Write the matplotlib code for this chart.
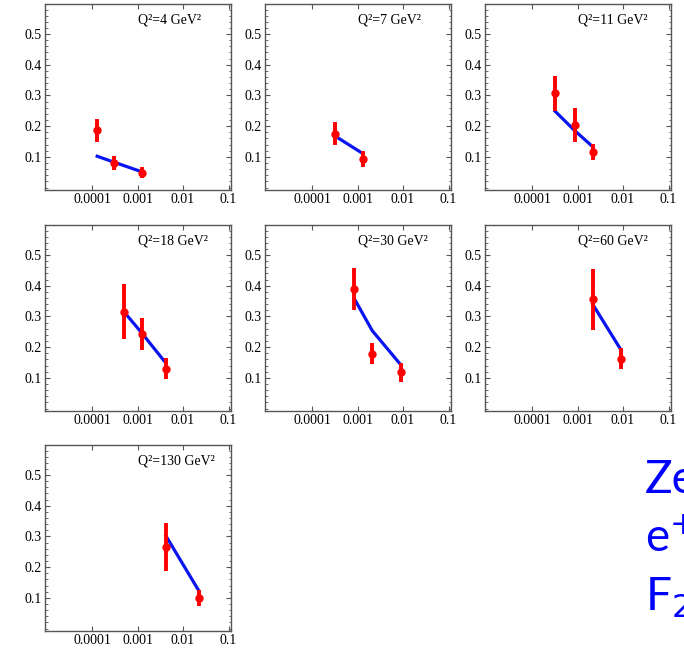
import numpy as np
import matplotlib
matplotlib.use("Agg")
import matplotlib.pyplot as plt
from matplotlib.ticker import FixedLocator, LogLocator, MultipleLocator, NullFormatter

# Q^2 bins (GeV^2)
q2_bins = [4, 7, 11, 18, 30, 60, 130]

# x values of the measured points, per bin
x_pts = [
    [1.3e-4, 3.0e-4, 1.26e-3],
    [3.2e-4, 1.3e-3],
    [3.2e-4, 8.6e-4, 2.2e-3],
    [5.0e-4, 1.26e-3, 4.2e-3],
    [8.5e-4, 2.1e-3, 9.1e-3],
    [2.15e-3, 9.1e-3],
    [4.2e-3, 2.2e-2],
]
# measured F2 and errors
f2_pts = [
    [0.187, 0.080, 0.049],
    [0.176, 0.093],
    [0.307, 0.203, 0.116],
    [0.316, 0.244, 0.130],
    [0.390, 0.179, 0.118],
    [0.356, 0.163],
    [0.266, 0.100],
]
f2_err = [
    [0.037, 0.022, 0.017],
    [0.038, 0.025],
    [0.057, 0.056, 0.025],
    [0.090, 0.052, 0.034],
    [0.068, 0.035, 0.030],
    [0.100, 0.035],
    [0.078, 0.025],
]
# prediction (blue line) at the same x
f2_theory = [
    [0.102, 0.083, 0.051],
    [0.168, 0.111],
    [0.249, 0.186, 0.132],
    [0.316, 0.245, 0.148],
    [0.358, 0.254, 0.141],
    [0.340, 0.190],
    [0.302, 0.124],
]

xtick_vals = [1e-4, 1e-3, 1e-2, 1e-1]
xtick_labels = ["0.0001", "0.001", "0.01", "0.1"]
ytick_vals = [0.1, 0.2, 0.3, 0.4, 0.5]

W, H = 684, 649
fig = plt.figure(figsize=(W / 100, H / 100), dpi=100)

serif = "Liberation Serif"
col_left = [45, 265, 485]
row_top = [4, 225, 445]
aw, ah = 186, 186

for i, q2 in enumerate(q2_bins):
    r, c = divmod(i, 3)
    ax = fig.add_axes([col_left[c] / W, (H - row_top[r] - ah) / H, aw / W, ah / H])
    ax.set_xscale("log")
    ax.set_xlim(9.3e-6, 0.113)
    ax.set_ylim(-0.008, 0.598)

    ax.plot(x_pts[i], f2_theory[i], color="#0a14f0", lw=2.3, zorder=2)
    ax.errorbar(x_pts[i], f2_pts[i], yerr=f2_err[i], fmt="o", color="#ff0000",
                ms=5, elinewidth=2.8, capsize=0, zorder=3)

    ax.text(0.5, 0.915, f"Q\u00b2={q2} GeV\u00b2", transform=ax.transAxes,
            ha="left", va="center", fontsize=10, family=serif)

    ax.xaxis.set_major_locator(FixedLocator(xtick_vals))
    ax.set_xticklabels(xtick_labels)
    ax.xaxis.set_minor_locator(LogLocator(base=10, subs=np.arange(2, 10)))
    ax.xaxis.set_minor_formatter(NullFormatter())
    ax.set_yticks(ytick_vals)
    ax.set_yticklabels([f"{v:.1f}" for v in ytick_vals])
    ax.yaxis.set_minor_locator(MultipleLocator(0.02))

    ax.tick_params(which="both", direction="in", top=True, right=True,
                   labelsize=10, color="#555555", pad=2.5)
    ax.tick_params(which="major", length=3.5, width=0.8)
    ax.tick_params(which="minor", length=1.8, width=0.6)
    for lab in ax.get_xticklabels() + ax.get_yticklabels():
        lab.set_family(serif)
    for sp in ax.spines.values():
        sp.set_color("#555555")
        sp.set_linewidth(1.0)

# side caption, cut by the right edge as in the source slide
for k, txt in enumerate(["Ze", "e$^{+}$", "F$_{2}$"]):
    fig.text(645 / W, 1 - (493 + 58.5 * k) / H, txt, color="#0000ff",
             fontsize=33, family="Lato", ha="left", va="baseline")

fig.savefig("out.png", dpi=100)
